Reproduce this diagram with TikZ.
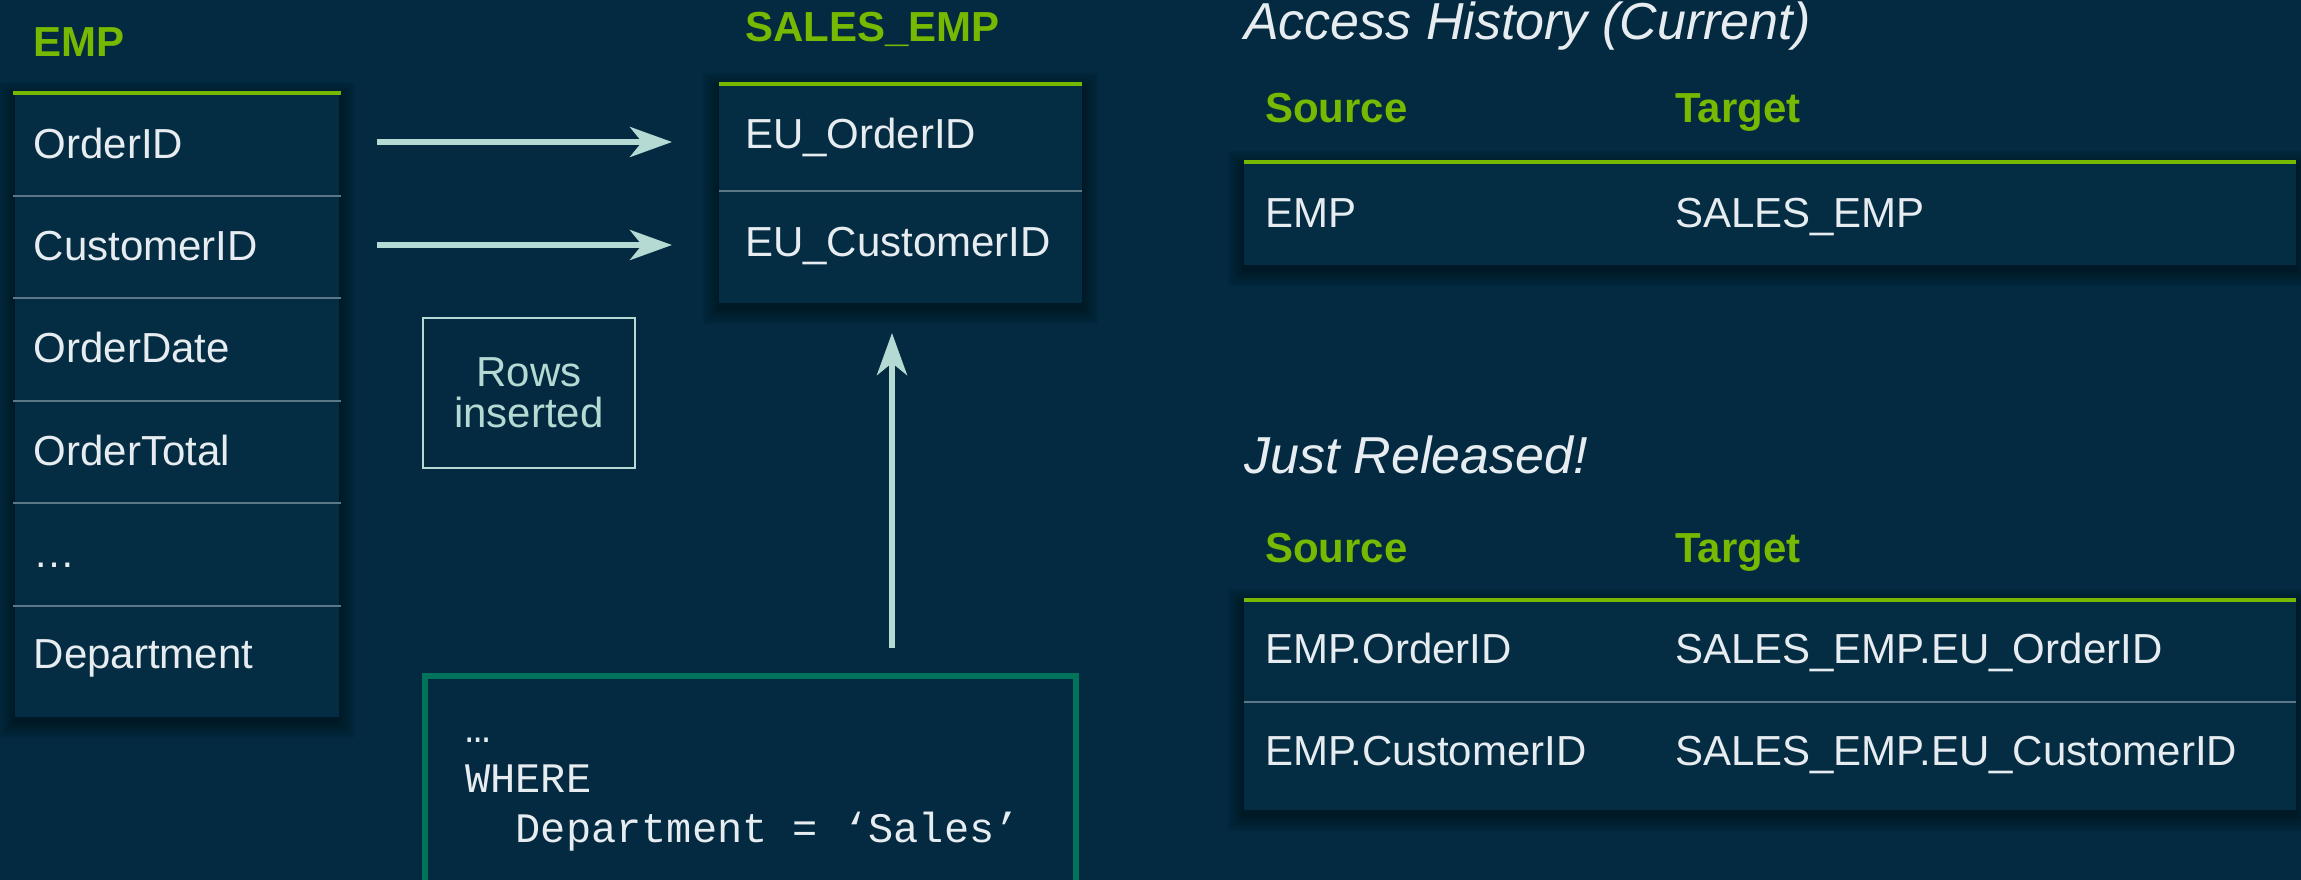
\documentclass[tikz,border=0pt]{standalone}
\usepackage{fontspec}
\setmainfont{Liberation Sans}
\setmonofont{Liberation Mono}
\usetikzlibrary{arrows.meta}

\definecolor{bg}{RGB}{3,42,64}
\definecolor{body}{RGB}{4,44,67}
\definecolor{txt}{RGB}{230,236,239}
\definecolor{sepc}{RGB}{92,120,134}
\definecolor{arrowc}{RGB}{181,218,211}
\definecolor{grn}{RGB}{118,185,0}
\definecolor{sqlg}{RGB}{0,115,90}

\newcommand\mkshadow[4]{%
  \foreach \d in {1,...,8}{%
    \fill[black,opacity=0.05] ({#1-2*\d},{#2-2*\d+5}) rectangle ({#3+2*\d},{#4+2*\d+5});
  }}

\begin{document}
\begin{tikzpicture}[x=1pt,y=-1pt,
  tbl/.style={rectangle, fill=body, inner sep=0pt, outer sep=0pt, draw=none},
  cell/.style={rectangle, inner sep=0pt, outer sep=0pt, draw=none, minimum height=4pt},
  ctext/.style={anchor=base west, inner sep=0pt, text=txt, font=\fontsize{42}{48}\selectfont},
  hdr/.style={anchor=base west, inner sep=0pt, text=grn, font=\fontsize{42}{48}\selectfont\bfseries},
  ttl/.style={anchor=base west, inner sep=0pt, text=txt, font=\fontsize{52}{60}\selectfont\itshape},
  code/.style={anchor=base west, inner sep=0pt, text=txt, font=\fontsize{42}{50}\selectfont\ttfamily},
  grnline/.style={draw=grn, line width=4pt},
  sepline/.style={draw=sepc, line width=2pt},
  arr/.style={draw=arrowc, line width=6pt, -{Stealth[length=42pt,width=30pt,inset=12pt]}},
  notebox/.style={rectangle, draw=arrowc, line width=2pt, inner sep=0pt, outer sep=0pt,
    text=arrowc, align=center, font=\fontsize{42}{41}\selectfont},
  sqlbox/.style={rectangle, draw=sqlg, line width=6pt, inner sep=0pt, outer sep=0pt}
]
\useasboundingbox (0,0) rectangle (2301,880);
\fill[bg] (0,0) rectangle (2301,880);
\clip (0,0) rectangle (2301,880);

% ---------- EMP table ----------
\node[hdr] (emphdr) at (33,57) {EMP};
\mkshadow{15}{93}{339}{717}
\node[tbl, minimum width=324pt, minimum height=624pt] (emp) at (177,405) {};
\draw[grnline] (13,93) -- (341,93);
\foreach \yy in {196,298,401,503,606}{\draw[sepline] (13,\yy) -- (341,\yy);}
\node[ctext] (eorder) at (33.5,158) {OrderID};
\node[ctext] (ecust) at (33.5,260) {CustomerID};
\node[ctext] (edate) at (33.5,362) {OrderDate};
\node[ctext] (etotal) at (33.5,465) {OrderTotal};
\node[ctext] (edots) at (33.5,567) {…};
\node[ctext] (edept) at (33.5,668) {Department};
\node[cell, minimum width=326pt] (e1) at (177,142) {};
\node[cell, minimum width=326pt] (e2) at (177,245) {};

% ---------- SALES_EMP table ----------
\node[hdr] (saleshdr) at (745,42) {SALES\_EMP};
\mkshadow{719}{84}{1082}{303}
\node[tbl, minimum width=363pt, minimum height=219pt] (sales) at (900.5,193.5) {};
\draw[grnline] (719,84) -- (1082,84);
\draw[sepline] (719,191) -- (1082,191);
\node[ctext] (sorder) at (745,148) {EU\_OrderID};
\node[ctext] (scust) at (745,256) {EU\_CustomerID};
\node[cell, minimum width=363pt] (s1) at (900.5,142) {};
\node[cell, minimum width=363pt] (s2) at (900.5,245) {};

% ---------- arrows ----------
\draw[arr, shorten <=37pt, shorten >=47pt] (e1.east) -- (s1.west);
\draw[arr, shorten <=37pt, shorten >=47pt] (e2.east) -- (s2.west);

% ---------- Rows inserted ----------
\node[notebox, minimum width=212pt, minimum height=150pt] (rows) at (529,393) {Rows\\inserted};

% ---------- SQL box ----------
\node[sqlbox, minimum width=651pt, minimum height=280pt] (sql) at (750.5,816) {};
\node[code] (c1) at (465,742) {…};
\node[code] (c2) at (465,792) {WHERE};
\node[code] (c3) at (465,842) {\ \ Department = ‘Sales’};
\coordinate (vx) at (892,0);
\draw[arr, shorten <=28pt, shorten >=30pt] (sql.north -| vx) -- (sales.south -| vx);

% ---------- Access History (Current) ----------
\node[ttl] (ttl1) at (1244,40) {Access History (Current)};
\node[hdr] (src1) at (1265,123) {Source};
\node[hdr] (tgt1) at (1675,123) {Target};
\mkshadow{1244}{162}{2296}{265}
\node[tbl, minimum width=1052pt, minimum height=103pt] (ah) at (1770,213.5) {};
\draw[grnline] (1244,162) -- (2296,162);
\node[ctext] (ah1s) at (1265,227) {EMP};
\node[ctext] (ah1t) at (1675,227) {SALES\_EMP};

% ---------- Just Released! ----------
\node[ttl] (ttl2) at (1244,473) {Just Released!};
\node[hdr] (src2) at (1265,562) {Source};
\node[hdr] (tgt2) at (1675,562) {Target};
\mkshadow{1244}{600}{2296}{810}
\node[tbl, minimum width=1052pt, minimum height=210pt] (jr) at (1770,705) {};
\draw[grnline] (1244,600) -- (2296,600);
\draw[sepline] (1244,702) -- (2296,702);
\node[ctext] (jr1s) at (1265,663) {EMP.OrderID};
\node[ctext] (jr1t) at (1675,663) {SALES\_EMP.EU\_OrderID};
\node[ctext] (jr2s) at (1265,765) {EMP.CustomerID};
\node[ctext] (jr2t) at (1675,765) {SALES\_EMP.EU\_CustomerID};
\end{tikzpicture}
\end{document}
